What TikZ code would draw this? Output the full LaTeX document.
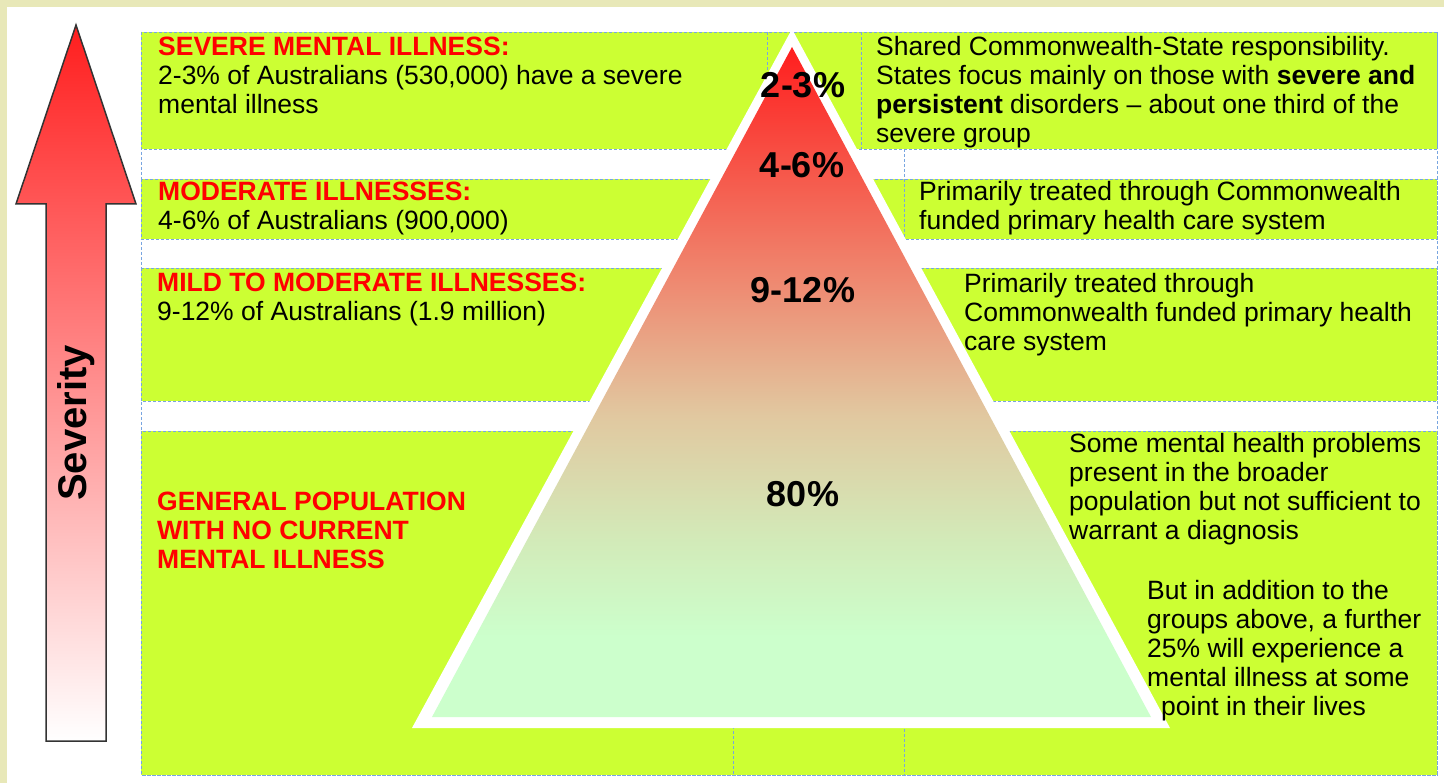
\documentclass[tikz,border=0pt]{standalone}
\usepackage{fontspec}
\setmainfont{Liberation Sans}
\definecolor{cream}{RGB}{232,232,184}
\definecolor{bandgreen}{RGB}{204,255,51}
\definecolor{dashblue}{RGB}{120,165,225}
\definecolor{hotred}{RGB}{255,30,30}
\definecolor{salmon}{RGB}{238,140,115}
\definecolor{midtan}{RGB}{225,200,160}
\definecolor{greentan}{RGB}{210,235,185}
\definecolor{palegreen}{RGB}{204,255,204}
\definecolor{pinkmid}{RGB}{255,185,185}
\pgfdeclareverticalshading{pyramidfade}{100bp}{color(0bp)=(palegreen);
  color(25bp)=(palegreen); color(31bp)=(palegreen); color(38bp)=(greentan);
  color(47.5bp)=(midtan); color(57bp)=(salmon); color(75bp)=(hotred);
  color(100bp)=(hotred)}
\newcommand{\grouptitle}[1]{\textcolor{red}{\textbf{#1}}}

\begin{document}
\begin{tikzpicture}[x=1pt, y=-1pt,
  band/.style={fill=bandgreen, draw=dashblue, dash pattern=on 3pt off 2pt, line width=0.8pt},
  sep/.style={draw=dashblue, dash pattern=on 3pt off 2pt, line width=0.8pt},
  txt/.style={anchor=north west, inner sep=0pt, align=left, font=\fontsize{26.5}{29}\selectfont},
  pct/.style={inner sep=0pt, font=\fontsize{36}{40}\selectfont\bfseries}]
  \useasboundingbox (0,0) rectangle (1444,783);

  % Frame
  \fill[white] (0,0) rectangle (1444,783);
  \fill[cream] (0,0) rectangle (1444,7);
  \fill[cream] (0,0) rectangle (7,783);

  % Bands
  \draw[sep] (141,32) rectangle (1437,775);
  \path[band] (141,32) rectangle (1437,149);
  \path[band] (141,179) rectangle (1437,239);
  \path[band] (141,268) rectangle (1437,401);
  \path[band] (141,431) rectangle (1437,775);
  \draw[sep] (767,32) -- (767,149);
  \draw[sep] (861,32) -- (861,149);
  \draw[sep] (904,149) -- (904,775);
  \draw[sep] (733,431) -- (733,775);

  % Pyramid
  \fill[white] (792,29) -- (412,728) -- (1170,728) -- cycle;
  \shade[shading=pyramidfade] (792,47) -- (432,717) -- (1151,717) -- cycle;

  % Severity arrow
  \shadedraw[top color=hotred, middle color=pinkmid, bottom color=white,
    draw=black!80, line width=1.5pt]
    (76,25) -- (136,204) -- (106,204) -- (106,741) -- (46,741)
    -- (46,204) -- (16,204) -- cycle;
  \node[rotate=90, inner sep=0pt, font=\fontsize{40}{44}\selectfont\bfseries]
    (sev) at (76,423) {Severity};

  % Share of the population
  \node[pct] (p1) at (803,85) {2-3\%};
  \node[pct] (p2) at (802,165) {4-6\%};
  \node[pct] (p3) at (803,290) {9-12\%};
  \node[pct] (p4) at (803,494) {80\%};

  % Groups
  \node[txt] (severe) at (158,37)
    {\grouptitle{SEVERE MENTAL ILLNESS:}\\
     2-3\% of Australians (530,000) have a severe\\
     mental illness};
  \node[txt] (moderate) at (158,182)
    {\grouptitle{MODERATE ILLNESSES:}\\
     4-6\% of Australians (900,000)};
  \node[txt] (mild) at (157,273)
    {\grouptitle{MILD TO MODERATE ILLNESSES:}\\
     9-12\% of Australians (1.9 million)};
  \node[txt] (general) at (157,492)
    {\grouptitle{GENERAL POPULATION}\\
     \grouptitle{WITH NO CURRENT}\\
     \grouptitle{MENTAL ILLNESS}};

  % Responsibility
  \node[txt] (severeR) at (876,36)
    {Shared Commonwealth-State responsibility.\\
     States focus mainly on those with \textbf{severe and}\\
     \textbf{persistent} disorders -- about one third of the\\
     severe group};
  \node[txt] (moderateR) at (919,181)
    {Primarily treated through Commonwealth\\
     funded primary health care system};
  \node[txt] (mildR) at (964,273)
    {Primarily treated through\\
     Commonwealth funded primary health\\
     care system};
  \node[txt] (generalR) at (1069,433)
    {Some mental health problems\\
     present in the broader\\
     population but not sufficient to\\
     warrant a diagnosis};
  \node[txt] (lifetime) at (1147,580)
    {But in addition to the\\
     groups above, a further\\
     25\% will experience a\\
     mental illness at some\\
     \hspace*{14pt}point in their lives};
\end{tikzpicture}
\end{document}
